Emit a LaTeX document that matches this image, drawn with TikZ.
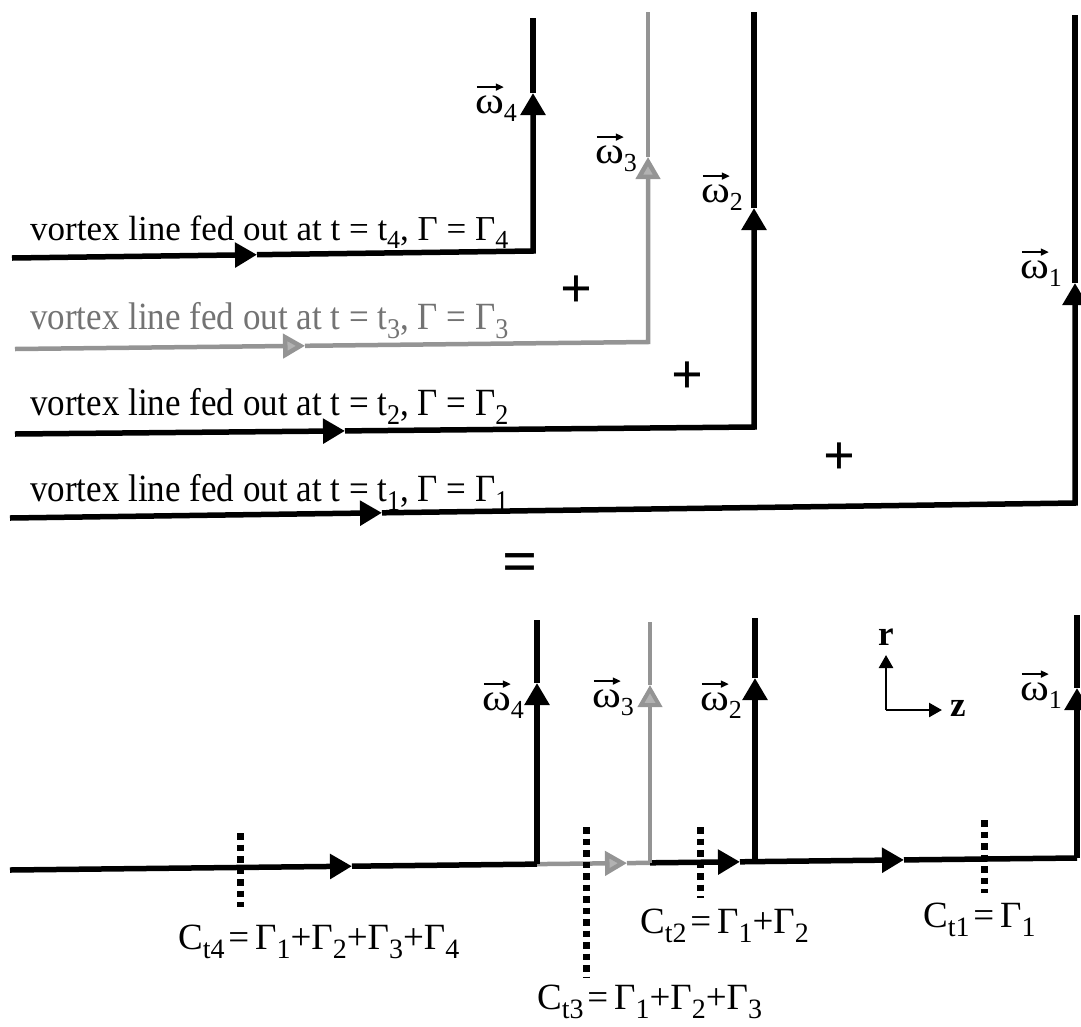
\documentclass[tikz,border=0pt]{standalone}
\usepackage{fontspec}
\setmainfont{Liberation Serif}
\usepackage{graphicx}
\usetikzlibrary{arrows.meta}
\newcommand{\fsz}{\fontsize{35}{40}\selectfont}
\newcommand{\fsc}{\fontsize{37}{42}\selectfont}
\newcommand{\sub}[1]{\raisebox{-0.25em}{\fontsize{26}{26}\selectfont #1}}
\newcommand{\subc}[1]{\raisebox{-0.25em}{\fontsize{28}{28}\selectfont #1}}
\newcommand{\om}[1]{\scalebox{1.25}[1.08]{ω}\sub{#1}}
\begin{document}
\begin{tikzpicture}[x=1pt,y=-1pt,
  bl/.style={line width=5.5pt, black},
  gr/.style={line width=4.5pt, black!42},
  grv/.style={line width=4pt, black!42},
  tipb/.style={-{Triangle[length=22pt,width=24pt]}},
  tipg/.style={-{Triangle[length=22pt,width=24pt,fill=black!30]}},
  tips/.style={-{Triangle[length=13pt,width=14pt]}},
  vecar/.style={line width=1.6pt, -{Triangle[length=8pt,width=7pt]}},
  dots/.style={line width=7pt, dash pattern=on 6.5pt off 5pt},
  lbl/.style={inner sep=0pt, font=\fsz},
  txt/.style={inner sep=0pt, font=\fsz, anchor=base west},
  ctxt/.style={inner sep=0pt, font=\fsc, anchor=base west},
  bigsym/.style={inner sep=0pt, font=\fontsize{56}{56}\selectfont\bfseries}]
\useasboundingbox (0,0) rectangle (1081,1026);
% ---------- top: four separate vortex lines ----------
% line 4
\coordinate (a4) at (12,258);
\coordinate (h4) at (257,254.7);
\coordinate (c4) at (533,251);
\coordinate (v4) at (533,93);
\coordinate (e4) at (533,18);
\draw[bl,tipb] (a4) -- (h4);
\draw[bl,tipb,line join=miter] (h4) -- (c4) -- (v4);
\draw[bl] (v4) -- (e4);
% line 3 (grey)
\coordinate (a3) at (15,349);
\coordinate (h3) at (305,345.8);
\coordinate (c3) at (648,342);
\coordinate (v3) at (648,157);
\coordinate (e3) at (648,12);
\draw[gr,tipg] (a3) -- (h3);
\draw[gr,tipg] (h3) -- (c3) -- (v3);
\draw[gr] (v3) -- (e3);
% line 2
\coordinate (a2) at (15,434);
\coordinate (h2) at (345,430.9);
\coordinate (c2) at (754,427);
\coordinate (v2) at (754,208);
\coordinate (e2) at (754,12);
\draw[bl,tipb] (a2) -- (h2);
\draw[bl,tipb] (h2) -- (c2) -- (v2);
\draw[bl] (v2) -- (e2);
% line 1
\coordinate (a1) at (10,518);
\coordinate (h1) at (382,512.8);
\coordinate (c1) at (1075,503);
\coordinate (v1) at (1075,283);
\coordinate (e1) at (1075,15);
\draw[bl,tipb] (a1) -- (h1);
\draw[bl,tipb] (h1) -- (c1) -- (v1);
\draw[bl] (v1) -- (e1);
% texts
\node[txt] (t4) at (30,240) {vortex line fed out at t = t\sub{4}, Γ = Γ\sub{4}};
\node[txt,text=black!55] (t3) at (30,329) {\scalebox{1}[1.1]{vortex line fed out at t = t\sub{3}, Γ = Γ\sub{3}}};
\node[txt] (t2) at (30,415) {\scalebox{1}[1.1]{vortex line fed out at t = t\sub{2}, Γ = Γ\sub{2}}};
\node[txt] (t1) at (30,501) {\scalebox{1}[1.1]{vortex line fed out at t = t\sub{1}, Γ = Γ\sub{1}}};
% omega labels top
\node[lbl,anchor=base east] (w4) at (517,113) {\om{4}};
\node[lbl,anchor=base east] (w3) at (637,163) {\om{3}};
\node[lbl,anchor=base east] (w2) at (743,202) {\om{2}};
\node[lbl,anchor=base east] (w1) at (1062,278) {\om{1}};
% plus and equals
\node[bigsym] (p3) at (576,292) {+};
\node[bigsym] (p2) at (687,378) {+};
\node[bigsym] (p1) at (839,459) {+};
\node[bigsym,font=\fontsize{62}{62}\selectfont\bfseries] (eq) at (520,568) {=};
% ---------- bottom: superposition ----------
\coordinate (b0) at (10,870);
\coordinate (bh4) at (352,866.2);
\coordinate (b4) at (537,864.1);
\coordinate (bh3) at (627,863.1);
\coordinate (b3) at (650,862.8);
\coordinate (bh2) at (740,861.8);
\coordinate (b2) at (755,861.6);
\coordinate (bh1) at (904,859.9);
\coordinate (b1) at (1077,858);
\draw[bl,tipb] (b0) -- (bh4);
\draw[bl] (bh4) -- (b4);
\draw[gr,tipg] (b4) -- (bh3);
\draw[gr] (bh3) -- (b3);
\draw[bl,tipb] (b3) -- (bh2);
\draw[bl,tipb] (bh2) -- (b2) -- (bh1);
\draw[bl] (bh1) -- (b1);
% bottom verticals
\coordinate (bv4) at (537,683);
\coordinate (be4) at (537,620);
\coordinate (bv3) at (650,685);
\coordinate (be3) at (650,622);
\coordinate (bv2) at (755,678);
\coordinate (be2) at (755,618);
\coordinate (bv1) at (1077,688);
\coordinate (be1) at (1077,615);
\draw[bl,tipb] (b4) -- (bv4);
\draw[bl] (bv4) -- (be4);
\draw[grv,tipg] (b3) -- (bv3);
\draw[grv] (bv3) -- (be3);
\draw[bl,tipb] (b2) -- (bv2);
\draw[bl] (bv2) -- (be2);
\draw[bl,tipb] (b1) -- (bv1);
\draw[bl] (bv1) -- (be1);
% omega labels bottom
\node[lbl,anchor=base east] (bw4) at (524,710) {\om{4}};
\node[lbl,anchor=base east] (bw3) at (634,707) {\om{3}};
\node[lbl,anchor=base east] (bw2) at (742,710) {\om{2}};
\node[lbl,anchor=base east] (bw1) at (1062,700) {\om{1}};
% vector arrows over omega
\foreach \n in {w4,w3,w2,w1,bw4,bw3,bw2,bw1}{
  \draw[vecar] ([shift={(2,-8)}]\n.north west) -- ++(27,0);
}
% cuts
\coordinate (d4a) at (240,833); \coordinate (d4b) at (240,907);
\coordinate (d3a) at (586,827); \coordinate (d3b) at (586,977);
\coordinate (d2a) at (700,827); \coordinate (d2b) at (700,898);
\coordinate (d1a) at (984,820); \coordinate (d1b) at (984,893);
\draw[dots] (d4a) -- (d4b);
\draw[dots] (d3a) -- (d3b);
\draw[dots] (d2a) -- (d2b);
\draw[dots] (d1a) -- (d1b);
\node[ctxt] (c4) at (178,949) {C\subc{t4}\hspace{0.1em}=\hspace{0.16em}Γ\subc{1}+Γ\subc{2}+Γ\subc{3}+Γ\subc{4}};
\node[ctxt] (c3) at (537,1009) {C\subc{t3}\hspace{0.1em}=\hspace{0.16em}Γ\subc{1}+Γ\subc{2}+Γ\subc{3}};
\node[ctxt] (c2) at (640,933) {C\subc{t2}\hspace{0.1em}=\hspace{0.16em}Γ\subc{1}+Γ\subc{2}};
\node[ctxt] (c1) at (923,927) {C\subc{t1}\hspace{0.1em}=\hspace{0.16em}Γ\subc{1}};
% axes
\coordinate (o) at (886,710);
\coordinate (rt) at (886,655);
\coordinate (zt) at (942,710);
\draw[line width=2.5pt,tips] (o) -- (rt);
\draw[line width=2.5pt,tips] (o) -- (zt);
\node[lbl] (r) at (886,637) {\textbf{r}};
\node[lbl] (z) at (958,708) {\textbf{z}};
\end{tikzpicture}
\end{document}
